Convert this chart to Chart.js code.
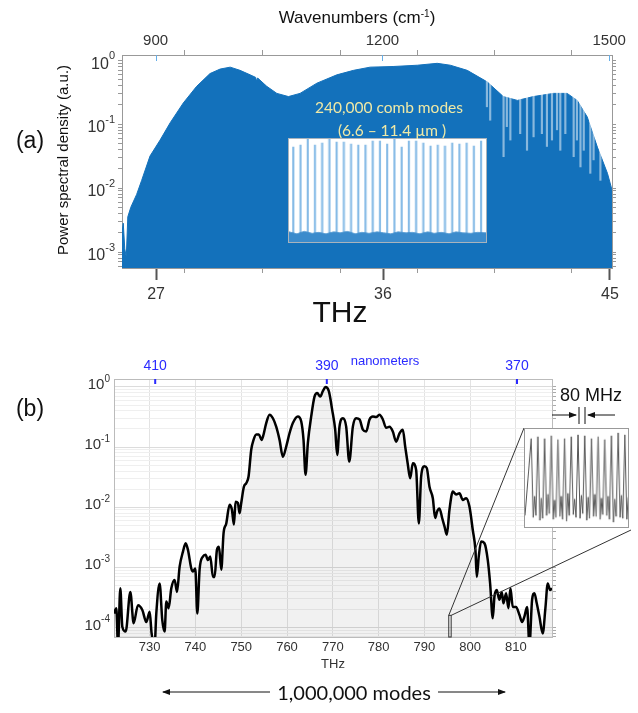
<!DOCTYPE html>
<html>
<head>
<meta charset="utf-8">
<script src="https://cdn.jsdelivr.net/npm/chart.js@4.4.1/dist/chart.umd.min.js"></script>
<style>
  body { margin: 0; background: #fff; }
  #page { position: relative; width: 638px; height: 713px; overflow: hidden; font-family: "Liberation Sans", Arial, sans-serif; color: #111; }
  canvas { position: absolute; }
  .txt { position: absolute; white-space: nowrap; transform: translate(-50%, -50%); }
  svg { position: absolute; left: 0; top: 0; }
</style>
</head>
<body>
<div id="page">
  <canvas id="chartA" width="638" height="320" style="left:0px;top:0px"></canvas>
  <canvas id="insetA" width="199" height="105" style="left:288px;top:138px;border:1px solid #a9b3bc;background:#fff"></canvas>
  <canvas id="chartB" width="638" height="340" style="left:0px;top:330px"></canvas>
  <canvas id="insetB" width="105" height="100" style="left:524px;top:428px;border:1px solid #999;background:#fff"></canvas>

  <div class="txt" style="left:357px;top:18px;font-size:17px">Wavenumbers (cm<sup style="font-size:10px">-1</sup>)</div>
  <div class="txt" style="left:30px;top:140px;font-size:23px">(a)</div>
  <div class="txt" style="left:62px;top:160px;font-size:15px;transform:translate(-50%,-50%) rotate(-90deg)">Power spectral density (a.u.)</div>
  <div class="txt" style="left:389px;top:107px;font-size:15.5px;font-family:Lato,sans-serif;color:#efe9a6">240,000 comb modes</div>
  <div class="txt" style="left:392px;top:130px;font-size:15.5px;font-family:Lato,sans-serif;color:#efe9a6">(6.6 – 11.4 µm )</div>
  <div class="txt" style="left:340px;top:312px;font-size:30px">THz</div>

  <div class="txt" style="left:30px;top:408px;font-size:23px">(b)</div>
  <div class="txt" style="left:385px;top:360px;font-size:13px;color:#2a2aff">nanometers</div>
  <div class="txt" style="left:333px;top:663px;font-size:13px;color:#333">THz</div>
  <div class="txt" style="left:591px;top:395px;font-size:18px">80 MHz</div>
  <div class="txt" style="left:354px;top:692px;font-size:20px;font-family:Lato,sans-serif">1,000,000 modes</div>

  <svg width="638" height="713">
    <defs>
      <marker id="ah" markerWidth="8" markerHeight="6" refX="7" refY="3" orient="auto">
        <path d="M0,0 L8,3 L0,6 z" fill="#111"/>
      </marker>
    </defs>
    <line x1="270" y1="692" x2="163" y2="692" stroke="#111" stroke-width="1" marker-end="url(#ah)"/>
    <line x1="438" y1="692" x2="505" y2="692" stroke="#111" stroke-width="1" marker-end="url(#ah)"/>
    <line x1="552" y1="415" x2="576" y2="415" stroke="#111" stroke-width="1" marker-end="url(#ah)"/>
    <line x1="615" y1="415" x2="588" y2="415" stroke="#111" stroke-width="1" marker-end="url(#ah)"/>
    <line x1="579" y1="407" x2="579" y2="424" stroke="#111" stroke-width="1"/>
    <line x1="585" y1="407" x2="585" y2="424" stroke="#111" stroke-width="1"/>
  </svg>
</div>

<script>
const C_LIGHT = 299792.458;      // nm * THz
const CM_PER_THZ = 33.35641;     // 1 THz in cm-1

// ---- (a) mid-IR comb spectrum : upper envelope (THz, log10 PSD)
const specTHz = [25.65, 25.70, 25.76, 25.82, 25.88, 26.0, 26.23, 26.43, 26.76, 27.16, 27.56, 28.08, 28.61,
  29.14, 29.54, 29.94, 30.33, 30.73, 30.95, 30.99, 31.03, 31.39, 31.79, 32.25, 32.71, 33.38, 34.17, 34.83,
  35.49, 36.4, 37.36, 38.15, 38.67, 39.34, 40.13, 40.77, 41.33, 41.96, 42.76, 43.3, 43.7, 44.1, 44.5, 44.9, 45.08];
const specExp = [-2.70, -2.55, -2.95, -3.08, -2.45, -2.30, -2.10, -1.88, -1.50, -1.25, -0.98, -0.67, -0.41,
  -0.21, -0.14, -0.11, -0.16, -0.23, -0.27, -0.33, -0.28, -0.41, -0.52, -0.57, -0.52, -0.36, -0.23, -0.16,
  -0.11, -0.10, -0.08, -0.05, -0.08, -0.16, -0.34, -0.57, -0.63, -0.57, -0.52, -0.52, -0.63, -0.89, -1.36, -1.77, -2.03];
// absorption dips (THz, log10 of dip bottom)
const dipTHz = [40.12, 40.25, 40.78, 40.91, 41.05, 41.44, 41.71, 41.97, 42.3, 42.5, 42.7, 42.9, 43.03,
  43.23, 43.56, 43.69, 43.83, 43.96, 44.22, 44.35, 44.62];
const dipExp = [-0.73, -0.94, -1.51, -1.04, -1.25, -1.15, -1.41, -1.2, -1.15, -1.35, -1.25, -1.09, -1.41,
  -1.15, -1.51, -1.25, -1.67, -1.41, -1.77, -1.56, -1.88];
const thzTicksA = [27, 36, 45];
const thzMinorA = [28.11, 31.2, 34.3, 37.36, 40.41, 43.47];
const wnTicks = [900, 1200, 1500];
const yDecadesA = [-3, -2, -1, 0];
const xRangeA = [25.65, 45.08];
const yExpRangeA = [-3.25, 0.08];

// inset (a): comb line heights (relative)
const combHeights = [0.92, 0.94, 1.0, 0.94, 0.96, 1.0, 0.97, 0.97, 0.95, 0.94, 0.94, 0.98, 0.98, 0.95,
  1.0, 0.92, 0.98, 0.98, 0.96, 0.93, 0.94, 0.93, 0.96, 0.95, 0.96, 0.93, 0.98];
const noiseX = [0.4, 1.5, 2.5, 3.6, 4.5, 5.5, 6.6, 7.5, 8.5, 9.6, 10.5, 11.5, 12.6, 13.5, 14.5, 15.5,
  16.6, 17.5, 18.5, 19.6, 20.5, 21.5, 22.6, 23.5, 24.5, 25.6, 26.5, 27.7];
const noiseY = [0.07, 0.05, 0.075, 0.055, 0.065, 0.05, 0.07, 0.06, 0.075, 0.05, 0.065, 0.055, 0.07, 0.06,
  0.05, 0.07, 0.06, 0.065, 0.05, 0.07, 0.055, 0.065, 0.05, 0.07, 0.06, 0.055, 0.065, 0.06];

// ---- (b) UV comb : envelope (THz, log10 PSD)
const envTHz = [722.2, 722.71, 723.07, 723.58, 724.02, 724.75, 725.77, 726.49, 727.44, 728.39, 729.26, 729.99,
  730.42, 731.08, 731.44, 732.17, 732.75, 733.26, 733.63, 734.14, 734.72, 735.45, 735.96, 736.54, 737.27,
  737.85, 738.36, 739.09, 739.45, 739.96, 740.4, 740.9, 741.63, 742.21, 742.72, 743.23, 743.82, 744.18,
  744.69, 745.13, 745.64, 746.14, 746.73, 747.45, 747.96, 748.4, 748.76, 749.27, 749.64, 750.0, 750.58,
  751.09, 751.6, 752.19, 752.69, 753.28, 753.86, 754.44, 754.88, 755.46, 756.19, 756.92, 757.64, 758.37,
  759.1, 759.83, 760.55, 761.28, 762.37, 763.1, 763.61, 764.05, 764.56, 765.29, 766.01, 766.6, 767.25,
  767.83, 768.42, 769.14, 769.87, 770.53, 770.96, 771.47, 772.2, 772.93, 773.6, 774.39, 775.12, 775.85,
  776.57, 777.3, 778.03, 778.76, 779.49, 780.21, 780.94, 781.67, 782.4, 783.12, 783.85, 784.58, 785.31,
  785.82, 786.4, 786.91, 787.49, 788.22, 788.8, 789.31, 790.04, 790.55, 791.13, 791.86, 792.37, 792.8,
  793.31, 793.9, 794.41, 794.92, 795.5, 796.23, 796.95, 797.68, 798.41, 799.14, 799.86, 800.59, 801.17,
  801.47, 801.9, 802.41, 803.14, 803.87, 804.38, 804.96, 805.32, 805.83, 806.41, 806.92, 807.29, 807.87,
  808.38, 808.82, 809.33, 810.05, 810.78, 811.36, 811.87, 812.46, 812.97, 813.55, 814.06, 814.57, 815.15,
  815.88, 816.46, 816.97, 817.48, 817.9];
const envExp = [-3.77, -3.68, -4.3, -3.35, -3.99, -4.07, -3.41, -3.93, -3.63, -3.71, -3.91, -3.74,
  -4.1, -4.3, -3.77, -3.27, -3.88, -4.07, -3.57, -3.68, -3.35, -3.21, -3.41, -2.99, -2.74,
  -2.6, -2.71, -3.02, -3.07, -3.02, -3.77, -3.04, -2.82, -2.79, -2.88, -2.82, -3.16, -3.16,
  -2.71, -2.66, -3.04, -2.43, -2.27, -1.96, -2.04, -2.29, -1.91, -1.93, -2.1, -1.93, -1.66,
  -1.6, -1.49, -1.04, -0.88, -0.79, -0.79, -0.88, -0.79, -0.6, -0.46, -0.52, -0.66, -0.88,
  -1.16, -0.99, -0.77, -0.6, -0.49, -0.57, -0.88, -1.46, -0.93, -0.49, -0.16, -0.1, -0.16,
  -0.07, 0.0, -0.07, -0.38, -0.71, -1.13, -0.66, -0.52, -0.66, -1.24, -0.66, -0.52, -0.54,
  -0.71, -0.74, -0.54, -0.49, -0.5, -0.46, -0.54, -0.68, -0.66, -0.74, -0.91, -0.77, -0.71,
  -0.99, -1.29, -1.52, -1.27, -1.38, -2.27, -1.49, -1.32, -1.35, -1.66, -1.85, -2.18, -2.07,
  -2.02, -2.18, -2.32, -2.46, -2.04, -1.74, -1.79, -1.77, -1.88, -1.85, -1.99, -2.38, -2.71,
  -3.16, -2.82, -2.57, -2.6, -2.88, -3.27, -3.85, -3.49, -3.38, -3.54, -3.41, -3.6, -3.43,
  -3.68, -3.35, -3.66, -3.66, -3.79, -3.91, -3.82, -3.66, -4.3, -3.54, -3.43, -3.6, -3.82,
  -4.1, -3.68, -3.27, -3.38, -3.35];
const thzTicksB = [730, 740, 750, 760, 770, 780, 790, 800, 810];
const nmTicks = [410, 390, 370];
const yDecadesB = [-4, -3, -2, -1, 0];
const xRangeB = [722.2, 817.9];
const yExpRangeB = [-4.16, 0.133];
const zoomTHz = [795.34, 795.87];
const zoomTopExp = -3.8;

// inset (b): zoomed comb teeth (relative heights)
const toothPeaks = [0.90, 0.92, 0.90, 0.93, 0.89, 0.90, 0.92, 0.94, 0.93, 0.90, 0.92, 0.89, 0.93, 0.96, 0.94];
const toothTroughA = [0.08, 0.05, 0.10, 0.06, 0.09, 0.04, 0.11, 0.07, 0.05, 0.09, 0.06, 0.10, 0.03, 0.08, 0.06];
const toothBumps = [0.30, 0.28, 0.32, 0.26, 0.30, 0.33, 0.27, 0.31, 0.29, 0.32, 0.28, 0.30, 0.27, 0.31, 0.29];
const toothTroughB = [0.10, 0.07, 0.12, 0.08, 0.06, 0.10, 0.08, 0.12, 0.07, 0.09, 0.11, 0.06, 0.09, 0.07, 0.10];

const FONT = '"Liberation Sans", Arial, sans-serif';

function logTicks(minExp, maxExp) {
  const out = [];
  for (let e = Math.floor(minExp); e <= Math.ceil(maxExp); e++) {
    for (let m = 1; m < 10; m++) {
      const v = m * Math.pow(10, e);
      const le = Math.log10(v);
      if (le >= minExp - 1e-9 && le <= maxExp + 1e-9) out.push({ value: v });
    }
  }
  return out;
}

function line(ctx, x1, y1, x2, y2) {
  ctx.beginPath(); ctx.moveTo(x1, y1); ctx.lineTo(x2, y2); ctx.stroke();
}

// "10" with a raised exponent, right aligned at xr, placed on the y scale
function drawDecades(chart, decades, size, xr, dy10, dyExp) {
  const { ctx, scales } = chart;
  ctx.save();
  ctx.fillStyle = '#333';
  ctx.textBaseline = 'middle';
  ctx.textAlign = 'left';
  decades.forEach(e => {
    const py = scales.y.getPixelForValue(Math.pow(10, e));
    const exp = String(e);
    ctx.font = Math.round(size * 0.68) + 'px ' + FONT;
    const we = ctx.measureText(exp).width;
    ctx.font = size + 'px ' + FONT;
    const wb = ctx.measureText('10').width;
    ctx.fillText('10', xr - we - wb, py + dy10);
    ctx.font = Math.round(size * 0.68) + 'px ' + FONT;
    ctx.fillText(exp, xr - we, py + dyExp);
  });
  ctx.restore();
}

// ---------- chart (a)
const marksA = {
  id: 'marksA',
  afterDraw(chart) {
    const { ctx, chartArea: a, scales } = chart;
    ctx.save();
    ctx.strokeStyle = '#999'; ctx.lineWidth = 1;
    thzMinorA.forEach(v => {
      const px = Math.round(scales.x.getPixelForValue(v)) + 0.5;
      line(ctx, px, a.top, px, a.top - 5);
      line(ctx, px, a.bottom, px, a.bottom + 5);
    });
    ctx.strokeStyle = '#64aee8';
    wnTicks.forEach(v => {
      const px = Math.round(scales.x2.getPixelForValue(v)) + 0.5;
      line(ctx, px, a.top, px, a.top + 6);
    });
    ctx.restore();
    drawDecades(chart, yDecadesA, 16, a.left - 7, 4, -4);
  }
};

new Chart(document.getElementById('chartA'), {
  type: 'line',
  data: {
    datasets: [{
      data: specTHz.map((x, i) => ({ x, y: Math.pow(10, specExp[i]) })),
      borderColor: '#1371bb', backgroundColor: '#1371bb', borderWidth: 1,
      fill: 'start', pointRadius: 0, tension: 0, order: 2
    }, {
      type: 'bar',
      data: dipTHz.map((x, i) => ({ x, y: [Math.pow(10, dipExp[i]), 1] })),
      backgroundColor: 'rgba(255,255,255,0.5)', barThickness: 1.5, order: 1
    }]
  },
  options: {
    responsive: false, animation: false, events: [],
    layout: { padding: 0 },
    plugins: { legend: { display: false }, tooltip: { enabled: false } },
    scales: {
      x: {
        type: 'linear', position: 'bottom', min: xRangeA[0], max: xRangeA[1], offset: false,
        afterBuildTicks: s => { s.ticks = thzTicksA.map(v => ({ value: v })); },
        afterFit: s => { s.height = 52; },
        ticks: { autoSkip: false, maxRotation: 0, padding: 5, color: '#333', font: { family: FONT, size: 16 }, callback: v => String(v) },
        grid: { offset: false, drawOnChartArea: false, tickLength: 12, tickWidth: 2, tickColor: '#555' },
        border: { color: '#999' }
      },
      x2: {
        type: 'linear', position: 'top', min: xRangeA[0] * CM_PER_THZ, max: xRangeA[1] * CM_PER_THZ, offset: false,
        afterBuildTicks: s => { s.ticks = wnTicks.map(v => ({ value: v })); },
        afterFit: s => { s.height = 55; },
        ticks: { autoSkip: false, maxRotation: 0, padding: 0, color: '#333', font: { family: FONT, size: 15 }, callback: v => String(v) },
        grid: { offset: false, drawOnChartArea: false, tickLength: 5, tickColor: 'rgba(0,0,0,0)' },
        border: { color: '#999' }
      },
      y: {
        type: 'logarithmic', position: 'left', min: Math.pow(10, yExpRangeA[0]), max: Math.pow(10, yExpRangeA[1]),
        afterBuildTicks: s => { s.ticks = logTicks(yExpRangeA[0], yExpRangeA[1]); },
        afterFit: s => { s.width = 122; },
        ticks: { autoSkip: false, padding: 3, callback: () => '' },
        grid: { drawOnChartArea: false, tickLength: 4, tickColor: '#999' },
        border: { color: '#999' }
      },
      y2: {
        type: 'logarithmic', position: 'right', min: Math.pow(10, yExpRangeA[0]), max: Math.pow(10, yExpRangeA[1]),
        afterBuildTicks: s => { s.ticks = logTicks(yExpRangeA[0], yExpRangeA[1]); },
        afterFit: s => { s.width = 26; },
        ticks: { display: false },
        grid: { drawOnChartArea: false, tickLength: 4, tickColor: '#999' },
        border: { color: '#999' }
      }
    }
  },
  plugins: [marksA]
});

// ---------- inset (a)
new Chart(document.getElementById('insetA'), {
  type: 'bar',
  data: {
    datasets: [{
      data: combHeights.map((h, i) => ({ x: i + 1, y: h })),
      backgroundColor: '#86bbe6', barThickness: 1.5, order: 2
    }, {
      type: 'line',
      data: noiseX.map((x, i) => ({ x, y: noiseY[i] })),
      borderColor: '#3b8bcc', backgroundColor: '#3b8bcc', borderWidth: 1,
      fill: 'start', pointRadius: 0, order: 1
    }]
  },
  options: {
    responsive: false, animation: false, events: [],
    layout: { padding: 0 },
    plugins: { legend: { display: false }, tooltip: { enabled: false } },
    scales: {
      x: { type: 'linear', min: 0.41, max: 27.68, offset: false, display: false },
      y: { min: -0.03, max: 1.0, display: false }
    }
  }
});

// ---------- chart (b)
const INSET_B = { left: 524, top: 98, right: 631, bottom: 200 };   // in chart (b) canvas pixels

const marksB = {
  id: 'marksB',
  afterDraw(chart) {
    const { ctx, chartArea: a, scales } = chart;
    ctx.save();
    ctx.strokeStyle = '#2a2aff'; ctx.lineWidth = 2;
    nmTicks.forEach(nm => {
      const px = scales.x2.getPixelForValue(C_LIGHT / nm);
      line(ctx, px, a.top, px, a.top + 5);
    });
    const x0 = scales.x.getPixelForValue(zoomTHz[0]);
    const x1 = scales.x.getPixelForValue(zoomTHz[1]);
    const yT = scales.y.getPixelForValue(Math.pow(10, zoomTopExp));
    ctx.strokeStyle = '#333'; ctx.lineWidth = 1;
    ctx.strokeRect(x0, yT, x1 - x0, a.bottom - yT);
    line(ctx, x0, yT, INSET_B.left, INSET_B.top);
    line(ctx, x1, yT, INSET_B.right, INSET_B.bottom);
    ctx.restore();
    drawDecades(chart, yDecadesB, 15, a.left - 4, -2, -8);
  }
};

new Chart(document.getElementById('chartB'), {
  type: 'line',
  data: {
    datasets: [{
      data: envTHz.map((x, i) => ({ x, y: Math.pow(10, envExp[i]) })),
      borderColor: '#000', backgroundColor: 'rgba(0,0,0,0.055)', borderWidth: 2.5,
      fill: 'start', pointRadius: 0, cubicInterpolationMode: 'monotone'
    }]
  },
  options: {
    responsive: false, animation: false, events: [],
    layout: { padding: 0 },
    plugins: { legend: { display: false }, tooltip: { enabled: false } },
    scales: {
      x: {
        type: 'linear', position: 'bottom', min: xRangeB[0], max: xRangeB[1], offset: false,
        afterBuildTicks: s => { s.ticks = thzTicksB.map(v => ({ value: v })); },
        afterFit: s => { s.height = 33; },
        ticks: { autoSkip: false, maxRotation: 0, padding: 3, color: '#333', font: { family: FONT, size: 13 }, callback: v => String(v) },
        grid: { color: '#e3e3e3', drawTicks: false },
        border: { color: '#bbb' }
      },
      x2: {
        type: 'linear', position: 'top', min: xRangeB[0], max: xRangeB[1], offset: false,
        afterBuildTicks: s => { s.ticks = nmTicks.map(nm => ({ value: C_LIGHT / nm })); },
        afterFit: s => { s.height = 49; },
        ticks: { autoSkip: false, maxRotation: 0, padding: 4, color: '#2a2aff', font: { family: FONT, size: 14 }, callback: (v, i) => String(nmTicks[i]) },
        grid: { drawOnChartArea: false, drawTicks: false },
        border: { color: '#bbb' }
      },
      y: {
        type: 'logarithmic', position: 'left', min: Math.pow(10, yExpRangeB[0]), max: Math.pow(10, yExpRangeB[1]),
        afterBuildTicks: s => { s.ticks = logTicks(yExpRangeB[0], yExpRangeB[1]); },
        afterFit: s => { s.width = 114; },
        ticks: { autoSkip: false, padding: 4, callback: () => '' },
        grid: {
          drawTicks: false,
          color: c => {
            const e = Math.log10(c.tick.value);
            return Math.abs(e - Math.round(e)) < 1e-6 ? '#dcdcdc' : '#efefef';
          }
        },
        border: { color: '#bbb' }
      },
      y2: {
        type: 'logarithmic', position: 'right', min: Math.pow(10, yExpRangeB[0]), max: Math.pow(10, yExpRangeB[1]),
        afterBuildTicks: s => { s.ticks = logTicks(yExpRangeB[0], yExpRangeB[1]); },
        afterFit: s => { s.width = 86; },
        ticks: { display: false },
        grid: { drawOnChartArea: false, tickLength: 4, tickColor: '#aaa' },
        border: { color: '#bbb' }
      }
    }
  },
  plugins: [marksB]
});

// ---------- inset (b)
const toothPts = [{ x: -0.92, y: toothTroughB[0] }];
toothPeaks.forEach((p, i) => {
  toothPts.push({ x: i, y: p });
  toothPts.push({ x: i + 0.3, y: toothTroughA[i] });
  toothPts.push({ x: i + 0.5, y: toothBumps[i] });
  toothPts.push({ x: i + 0.7, y: toothTroughB[i] });
});

new Chart(document.getElementById('insetB'), {
  type: 'line',
  data: {
    datasets: [{
      data: toothPts,
      borderColor: '#555', borderWidth: 1, pointRadius: 0, tension: 0
    }]
  },
  options: {
    responsive: false, animation: false, events: [],
    layout: { padding: 0 },
    plugins: { legend: { display: false }, tooltip: { enabled: false } },
    scales: {
      x: { type: 'linear', min: -0.92, max: 14.47, display: false },
      y: { min: -0.02, max: 1.0, display: false }
    }
  }
});
</script>
</body>
</html>
